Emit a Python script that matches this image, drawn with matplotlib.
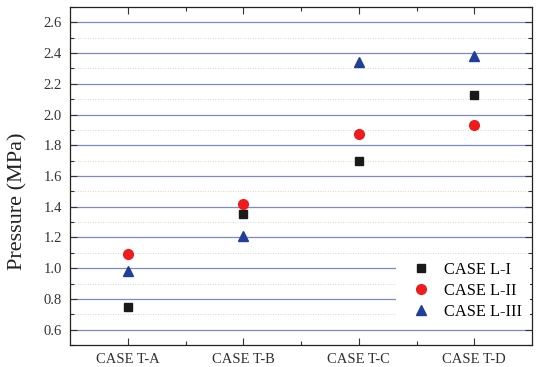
import matplotlib
matplotlib.use("Agg")
import matplotlib.pyplot as plt
from matplotlib.ticker import MultipleLocator, FixedLocator

plt.rcParams['font.family'] = ['Liberation Serif', 'DejaVu Serif']

categories = ["CASE T-A", "CASE T-B", "CASE T-C", "CASE T-D"]
series_names = ["CASE L-I", "CASE L-II", "CASE L-III"]
case_l1 = [0.75, 1.35, 1.70, 2.13]
case_l2 = [1.09, 1.42, 1.87, 1.93]
case_l3 = [0.98, 1.21, 2.34, 2.38]

fig = plt.figure(figsize=(5.37, 3.67), dpi=100)
ax = fig.add_axes([0.1304, 0.06, 0.8603, 0.921])

x = list(range(1, len(categories) + 1))
ax.plot(x, case_l1, linestyle='none', marker='s', ms=6.2, color='#1a1a1a', label=series_names[0], zorder=3)
ax.plot(x, case_l2, linestyle='none', marker='o', ms=7, color='#ee1c1c', label=series_names[1], zorder=3)
ax.plot(x, case_l3, linestyle='none', marker='^', ms=7.5, color='#1f3f99', label=series_names[2], zorder=3)

ax.set_xlim(0.5, 4.5)
ax.set_ylim(0.5, 2.7)
ax.set_xticks(x)
ax.set_xticklabels(categories)
ax.xaxis.set_minor_locator(FixedLocator([1.5, 2.5, 3.5]))
ax.yaxis.set_major_locator(FixedLocator([0.6, 0.8, 1.0, 1.2, 1.4, 1.6, 1.8, 2.0, 2.2, 2.4, 2.6]))
ax.yaxis.set_minor_locator(MultipleLocator(0.1))
ax.yaxis.set_major_formatter(matplotlib.ticker.FormatStrFormatter('%.1f'))

ax.grid(True, which='major', axis='y', color='#7f88cc', linewidth=0.9, zorder=1)
ax.grid(True, which='minor', axis='y', color='#c8c8c8', linewidth=0.6, linestyle=(0, (1, 2)), zorder=1)
ax.set_axisbelow(True)

ax.tick_params(which='both', direction='in', top=True, right=True, labelsize=10.5, colors='#333333')
ax.tick_params(which='major', length=5, width=0.8, pad=6)
ax.tick_params(which='minor', length=3, width=0.8)
for s in ax.spines.values():
    s.set_color('#222222')
    s.set_linewidth(0.9)

ax.set_ylabel("Pressure (MPa)", fontsize=16, color='#222222')
ax.yaxis.set_label_coords(-0.093, 0.426)

leg = ax.legend(loc='lower right', bbox_to_anchor=(0.9957, 0.05), borderaxespad=0,
                frameon=True, fancybox=False, edgecolor='none', facecolor='white',
                framealpha=1, fontsize=11.8, handletextpad=0.4, labelspacing=0.3,
                borderpad=0.5, numpoints=1)
leg.set_zorder(2)

fig.savefig("out.png", dpi=100)
